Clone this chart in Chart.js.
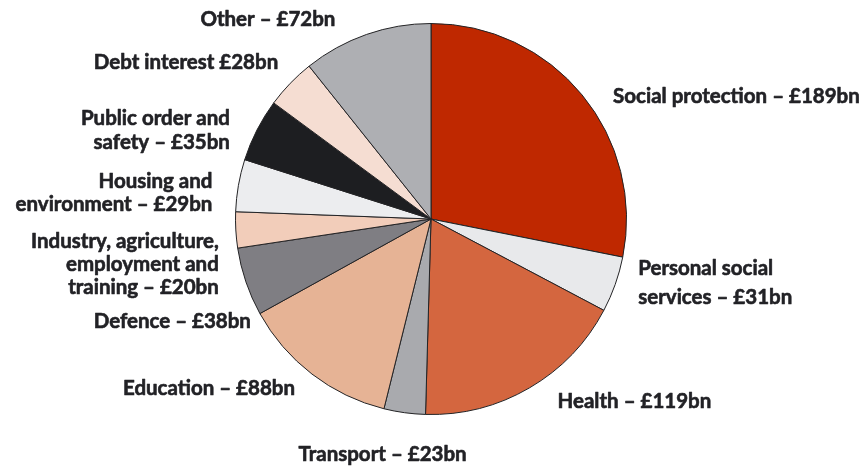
<!DOCTYPE html>
<html>
<head>
<meta charset="utf-8">
<script src="https://cdn.jsdelivr.net/npm/chart.js@4"></script>
<style>
  html, body { margin: 0; padding: 0; background: #fff; }
  #wrap { width: 865px; height: 471px; position: relative; }
</style>
</head>
<body>
<div id="wrap"><canvas id="pie"></canvas></div>
<script>
// spending categories, clockwise from 12 o'clock
const categories = [
  "Social protection", "Personal social services", "Health", "Transport",
  "Education", "Defence", "Industry, agriculture, employment and training",
  "Housing and environment", "Public order and safety", "Debt interest", "Other"
];
const spendBn = [189, 31, 119, 23, 88, 38, 20, 29, 35, 28, 72];
const labelLines = [
  ["Social protection – £189bn"],
  ["Personal social", "services – £31bn"],
  ["Health – £119bn"],
  ["Transport – £23bn"],
  ["Education – £88bn"],
  ["Defence – £38bn"],
  ["Industry, agriculture,", "employment and", "training – £20bn"],
  ["Housing and", "environment – £29bn"],
  ["Public order and", "safety – £35bn"],
  ["Debt interest £28bn"],
  ["Other – £72bn"]
];
const sliceColours = [
  "#BF2800", "#E8E9EB", "#D4663F", "#A9AAAE", "#E6B395", "#7F7E83",
  "#F2CDBA", "#ECEDEF", "#1D1E21", "#F5DDD2", "#AEAFB3"
];

// label placement relative to the rim point at each slice's mid angle
const labelLayout = [
  { dx: 31, dy: 1, align: "left", lh: 24 },
  { dx: 23, dy: -2, align: "left", lh: 29 },
  { dx: 28, dy: 14, align: "left", lh: 24 },
  { dx: -22, dy: 42, align: "center", lh: 24 },
  { dx: -17, dy: 14, align: "right", lh: 24 },
  { dx: 5, dy: 40, align: "right", lh: 24 },
  { dx: -17, dy: 34, align: "right", lh: 23 },
  { dx: -26, dy: 8, align: "right", lh: 23 },
  { dx: -27, dy: 0, align: "right", lh: 24 },
  { dx: -12, dy: -21, align: "right", lh: 24 },
  { dx: -31, dy: -15, align: "right", lh: 24 }
];

const outsideLabels = {
  id: "outsideLabels",
  afterDatasetsDraw(chart) {
    const ctx = chart.ctx;
    const arcs = chart.getDatasetMeta(0).data;
    ctx.save();
    ctx.font = "bold 20.5px Lato";
    ctx.fillStyle = "#222226";
    ctx.strokeStyle = "#222226";
    ctx.lineWidth = 0.6;
    ctx.lineJoin = "round";
    ctx.textBaseline = "middle";
    arcs.forEach((arc, i) => {
      const p = arc.getProps(["x", "y", "startAngle", "endAngle", "outerRadius"], true);
      const mid = (p.startAngle + p.endAngle) / 2;
      const lay = labelLayout[i];
      const ax = p.x + Math.cos(mid) * p.outerRadius + lay.dx;
      const ay = p.y + Math.sin(mid) * p.outerRadius + lay.dy;
      const lines = labelLines[i];
      ctx.textAlign = lay.align;
      const top = ay - (lines.length - 1) * lay.lh / 2;
      lines.forEach((t, k) => {
        ctx.fillText(t, ax, top + k * lay.lh);
        ctx.strokeText(t, ax, top + k * lay.lh);
      });
    });
    ctx.restore();
  }
};

new Chart(document.getElementById("pie"), {
  type: "pie",
  data: {
    labels: categories,
    datasets: [{
      data: spendBn,
      backgroundColor: sliceColours,
      borderColor: "#232325",
      borderWidth: 1
    }]
  },
  options: {
    responsive: true,
    maintainAspectRatio: false,
    animation: false,
    layout: { padding: { top: 23, bottom: 56, left: 235, right: 238 } },
    plugins: { legend: { display: false }, tooltip: { enabled: false } }
  },
  plugins: [outsideLabels]
});
</script>
</body>
</html>
